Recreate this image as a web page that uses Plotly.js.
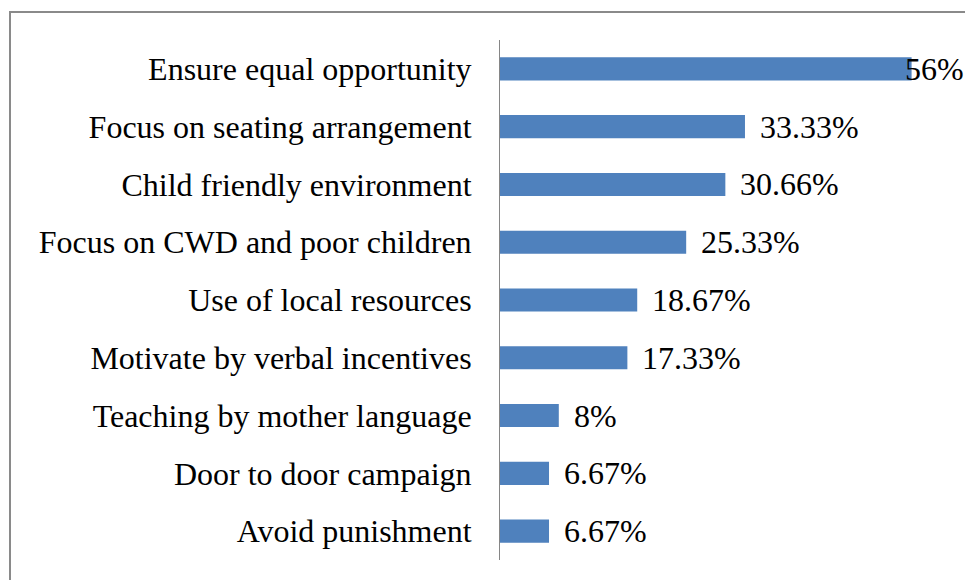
<!DOCTYPE html>
<html>
<head>
<meta charset="utf-8">
<script src="https://cdn.plot.ly/plotly-3.0.1.min.js"></script>
<style>
  html, body { margin: 0; padding: 0; background: #fff; }
  #wrap { position: relative; width: 965px; height: 580px; overflow: hidden; }
  #frame { position: absolute; left: 9px; top: 11px; width: 1000px; height: 1000px;
           border-left: 2px solid #8a8a8a; border-top: 2px solid #8a8a8a; pointer-events: none; }
  #chart { position: absolute; left: 0; top: 0; width: 965px; height: 580px; }
</style>
</head>
<body>
<div id="wrap">
  <div id="chart"></div>
  <div id="frame"></div>
</div>
<script>
const categories = [
  "Ensure equal opportunity",
  "Focus on seating arrangement",
  "Child friendly environment",
  "Focus on CWD and poor children",
  "Use of local resources",
  "Motivate by verbal incentives",
  "Teaching by mother language",
  "Door to door campaign",
  "Avoid punishment"
];
const values = [56, 33.33, 30.66, 25.33, 18.67, 17.33, 8, 6.67, 6.67];
const valueLabels = ["56%", "33.33%", "30.66%", "25.33%", "18.67%", "17.33%", "8%", "6.67%", "6.67%"];

const fontFam = 'serif';
const maxVal = Math.max(...values);

const trace = {
  type: 'bar',
  orientation: 'h',
  x: values,
  y: categories,
  marker: { color: '#4F81BD' },
  hoverinfo: 'none'
};

const annotations = values.map((v, i) => ({
  x: v, y: categories[i], xref: 'x', yref: 'y',
  text: valueLabels[i], showarrow: false,
  xanchor: 'left', yanchor: 'middle',
  xshift: v === maxVal ? -9 : 13,
  font: { family: fontFam, size: 32, color: '#000' }
}));

const layout = {
  width: 965, height: 580,
  margin: { l: 500, r: 24, t: 40, b: 20 },
  paper_bgcolor: 'rgba(0,0,0,0)',
  plot_bgcolor: 'rgba(0,0,0,0)',
  bargap: 0.6,
  showlegend: false,
  xaxis: { range: [0, 60], visible: false, fixedrange: true },
  yaxis: {
    autorange: 'reversed',
    showline: true, linecolor: '#868686', linewidth: 1,
    showgrid: false, zeroline: false,
    ticks: '', ticklabelstandoff: 21,
    tickfont: { family: fontFam, size: 32, color: '#000' },
    fixedrange: true
  },
  annotations: annotations
};

Plotly.newPlot('chart', [trace], layout, { displayModeBar: false, staticPlot: true });
</script>
</body>
</html>
